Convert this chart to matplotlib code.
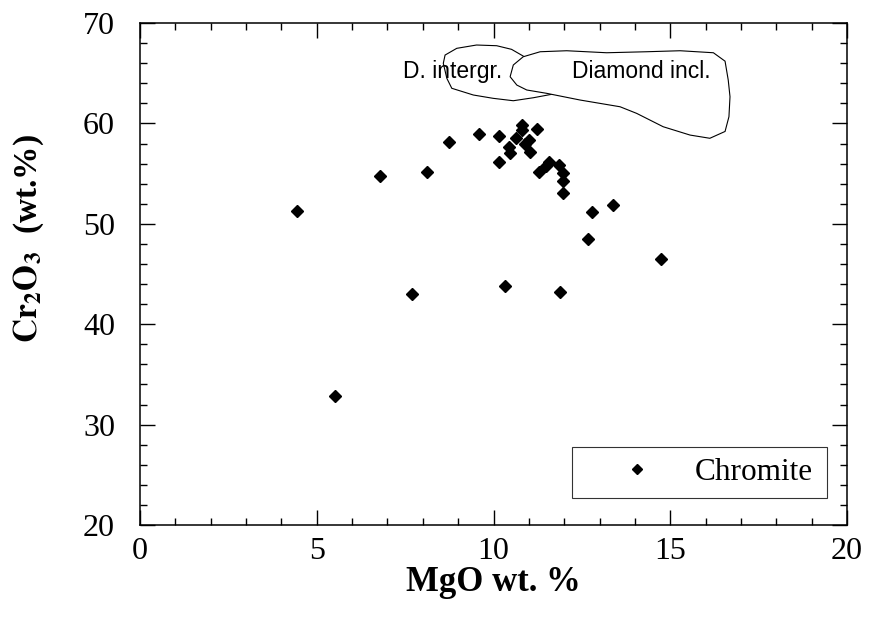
"""
Cr2O3 vs MgO scatter for chromite grains, with diamond inclusion /
intergrowth fields drawn as outlines.
"""

import matplotlib
matplotlib.use("Agg")
import matplotlib.pyplot as plt
from matplotlib.patches import Polygon
from matplotlib.ticker import MultipleLocator

# Chromite analyses
mgo = [4.43, 5.52, 6.79, 7.69, 8.11, 8.75, 9.59, 10.16, 10.16, 10.33,
       10.45, 10.47, 10.65, 10.80, 10.80, 10.89, 10.99, 11.03, 11.24, 11.30,
       11.48, 11.58, 11.85, 11.98, 11.98, 11.98, 11.88, 12.68, 12.78, 13.39,
       14.73]
cr2o3 = [51.3, 32.85, 54.76, 43.0, 55.13, 58.12, 58.98, 58.75, 56.13, 43.84,
         57.68, 57.02, 58.58, 59.84, 59.34, 58.0, 58.35, 57.18, 59.41, 55.13,
         55.76, 56.2, 55.86, 55.1, 54.3, 53.1, 43.2, 48.46, 51.2, 51.87,
         46.5]

# Field outlines
intergr_x = [8.63, 8.96, 9.52, 10.09, 10.51, 10.84, 11.30, 11.60, 11.69,
             11.13, 10.56, 9.99, 9.43, 8.82, 8.68, 8.58]
intergr_y = [66.81, 67.48, 67.81, 67.74, 67.38, 66.71, 65.3, 63.8, 62.93,
             62.56, 62.26, 62.5, 62.83, 63.5, 64.49, 65.99]

incl_x = [10.47, 10.56, 10.84, 11.32, 12.07, 13.20, 14.33, 15.28, 16.22,
          16.55, 16.64, 16.69, 16.66, 16.55, 16.12, 15.56, 14.80, 14.05,
          13.58, 12.45, 11.50, 10.94, 10.66]
incl_y = [64.65, 65.82, 66.64, 67.14, 67.24, 67.04, 67.14, 67.24, 67.04,
          66.2, 64.32, 62.66, 60.67, 59.2, 58.52, 58.84, 59.67, 61.0,
          61.66, 62.33, 63.0, 63.33, 63.82]

plt.rcParams["font.family"] = ["Liberation Serif", "DejaVu Serif"]
plt.rcParams["mathtext.fontset"] = "stix"

fig = plt.figure(figsize=(8.69, 6.31), dpi=100)
ax = fig.add_axes([0.1611, 0.168, 0.8136, 0.7955])

# Fields (white fill so the inclusion field covers the intergrowth one)
ax.add_patch(Polygon(list(zip(intergr_x, intergr_y)), closed=True,
                     facecolor="white", edgecolor="black", lw=0.8, zorder=2))
ax.add_patch(Polygon(list(zip(incl_x, incl_y)), closed=True,
                     facecolor="white", edgecolor="black", lw=0.8, zorder=3))
ax.text(8.83, 65.15, "D. intergr.", family=["Liberation Sans"], fontsize=16.5,
        ha="center", va="center", zorder=4)
ax.text(14.17, 65.15, "Diamond incl.", family=["Liberation Sans"], fontsize=16.5,
        ha="center", va="center", zorder=4)

ax.plot(mgo, cr2o3, "D", color="black", ms=6.6, ls="none",
        label="Chromite", zorder=5)

ax.set_xlim(0, 20)
ax.set_ylim(20, 70)
ax.xaxis.set_major_locator(MultipleLocator(5))
ax.xaxis.set_minor_locator(MultipleLocator(1))
ax.yaxis.set_major_locator(MultipleLocator(10))
ax.yaxis.set_minor_locator(MultipleLocator(2))
ax.tick_params(which="both", direction="in", top=True, right=True, width=1)
ax.tick_params(which="major", length=11, labelsize=23)
ax.tick_params(which="minor", length=5)
ax.tick_params(axis="y", which="major", pad=18)
ax.tick_params(axis="x", which="major", pad=9)
for s in ax.spines.values():
    s.set_linewidth(1.1)

ax.set_xlabel("MgO wt. %", fontsize=25, fontweight="bold", labelpad=0)
ax.set_ylabel(r"$\mathbf{Cr_2O_3}$  (wt.%)", fontsize=24, fontweight="bold")
ax.yaxis.set_label_coords(-0.133, 0.57)

leg = ax.legend(loc="lower left", bbox_to_anchor=(0.6105, 0.0545, 0.3607, 0.1215),
                mode="expand", fontsize=22.5, frameon=True, fancybox=False,
                edgecolor="black", handlelength=3.5, handletextpad=0.1,
                borderaxespad=0, borderpad=0.35, markerscale=0.8)
leg.get_frame().set_linewidth(0.8)

fig.savefig("out.png", dpi=100)
